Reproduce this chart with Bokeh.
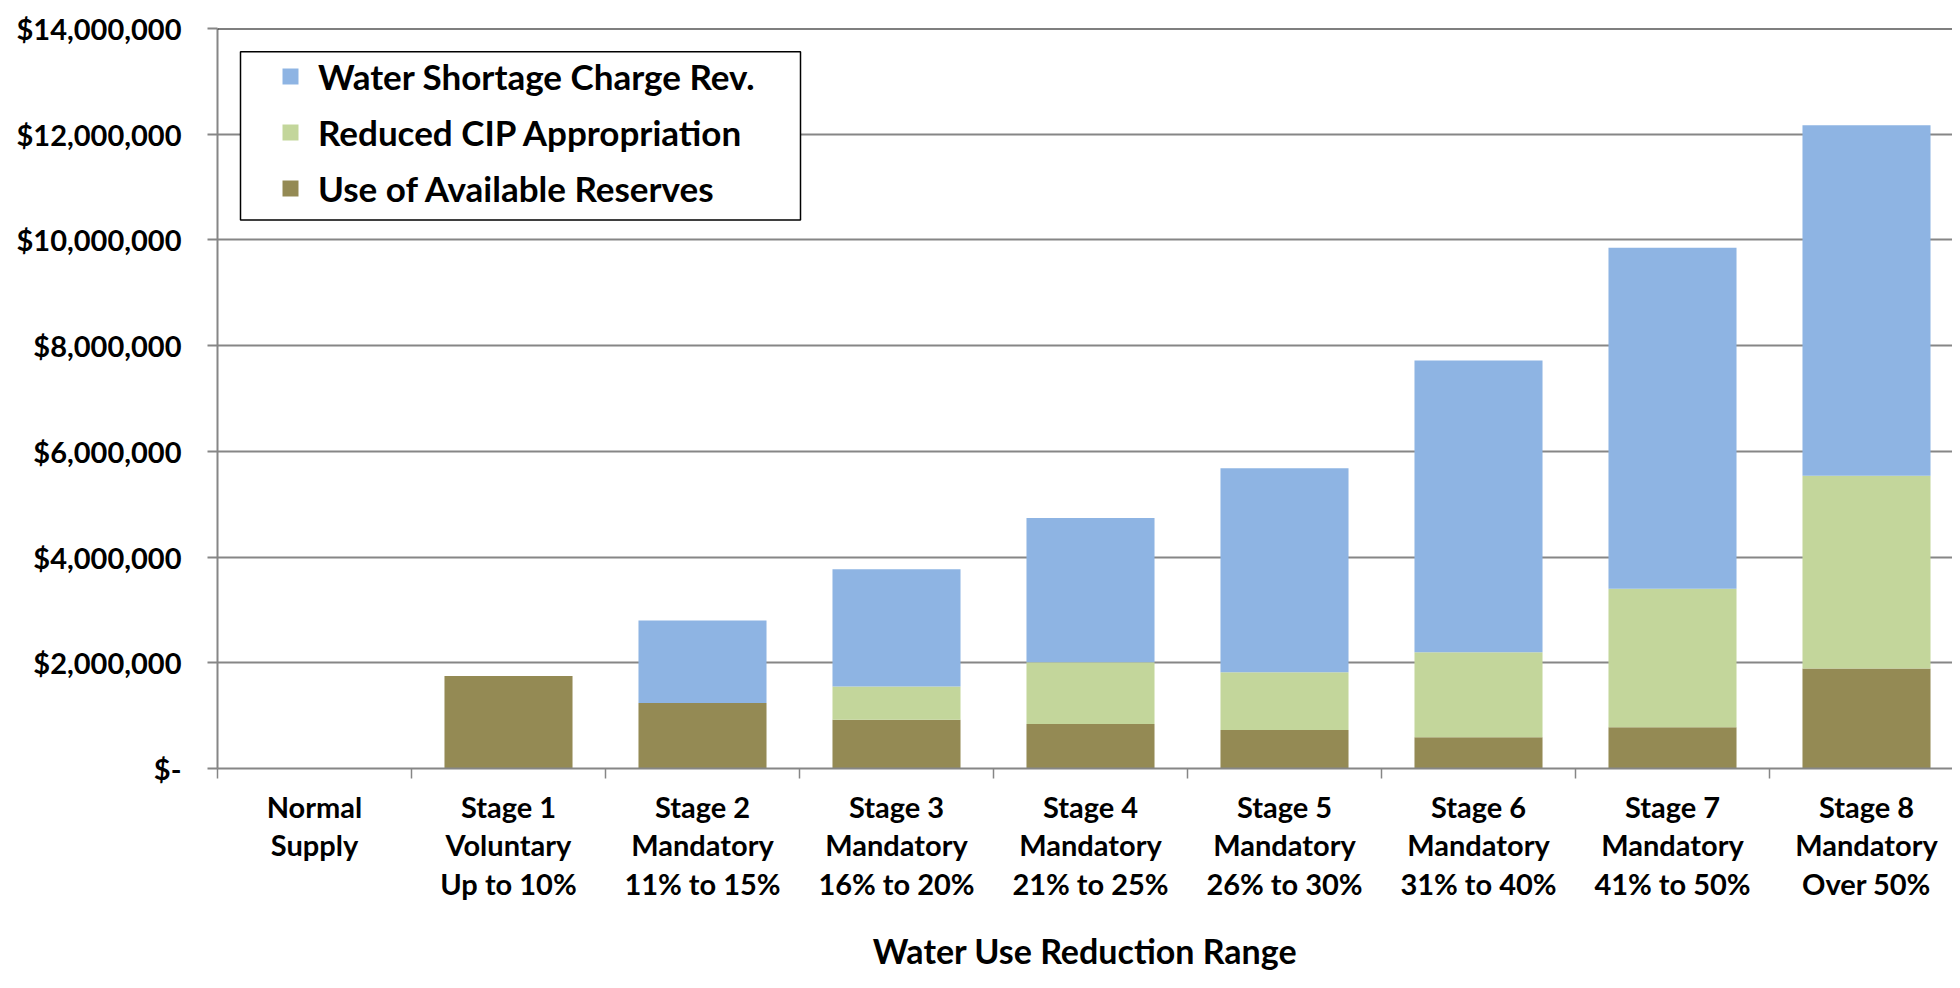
from bokeh.plotting import figure
from bokeh.models import (Range1d, FixedTicker, Span, Legend, LegendItem,
                          BoxAnnotation, ColumnDataSource)
from bokeh.embed import file_html
from bokeh.resources import INLINE

# ---------------- data ----------------
categories = [
    "Normal\nSupply",
    "Stage 1\nVoluntary\nUp to 10%",
    "Stage 2\nMandatory\n11% to 15%",
    "Stage 3\nMandatory\n16% to 20%",
    "Stage 4\nMandatory\n21% to 25%",
    "Stage 5\nMandatory\n26% to 30%",
    "Stage 6\nMandatory\n31% to 40%",
    "Stage 7\nMandatory\n41% to 50%",
    "Stage 8\nMandatory\nOver 50%",
]
reserves = [0, 1750000, 1240000, 920000, 840000, 730000, 590000, 780000, 1890000]
cip = [0, 0, 0, 630000, 1170000, 1090000, 1610000, 2620000, 3650000]
shortage = [0, 0, 1560000, 2220000, 2730000, 3860000, 5520000, 6450000, 6630000]

series_names = ["Water Shortage Charge Rev.", "Reduced CIP Appropriation", "Use of Available Reserves"]
series_colors = ["#8EB4E3", "#C3D69B", "#948A54"]

y_ticks = [0, 2000000, 4000000, 6000000, 8000000, 10000000, 12000000, 14000000]
y_tick_labels = ["$-", "$2,000,000", "$4,000,000", "$6,000,000", "$8,000,000",
                 "$10,000,000", "$12,000,000", "$14,000,000"]
x_title = "Water Use Reduction Range"

# ---------------- styles ----------------
FONT = "Lato"
GRID = "#868686"
n = len(categories)
xc = [i + 0.5 for i in range(n)]
src = ColumnDataSource(dict(x=xc, reserves=reserves, cip=cip, shortage=shortage))

p = figure(width=1952, height=980, output_backend="svg", toolbar_location=None,
           x_range=Range1d(0, 1735 / 194), y_range=Range1d(0, 14000000),
           min_border_left=217, min_border_right=0, min_border_top=28,
           min_border_bottom=212)
p.outline_line_color = None
p.background_fill_color = "white"
p.border_fill_color = "white"

# bars
rs = p.vbar_stack(["reserves", "cip", "shortage"], x="x", width=0.66, source=src,
                  color=[series_colors[2], series_colors[1], series_colors[0]],
                  line_color=None)

# grid
p.xgrid.visible = False
p.ygrid.ticker = FixedTicker(ticks=y_ticks)
p.ygrid.grid_line_color = GRID
p.ygrid.grid_line_width = 2

# top frame line
p.add_layout(Span(location=14000000, dimension="width", line_color="black", line_width=2))

# y axis
ya = p.yaxis[0]
ya.ticker = FixedTicker(ticks=y_ticks)
ya.major_label_overrides = {t: l for t, l in zip(y_ticks, y_tick_labels)}
ya.axis_line_color = GRID
ya.axis_line_width = 2
ya.major_tick_line_color = GRID
ya.major_tick_line_width = 2
ya.major_tick_out = 10
ya.major_tick_in = 0
ya.minor_tick_line_color = None
ya.major_label_standoff = 26
ya.major_label_text_font = FONT
ya.major_label_text_font_style = "bold"
ya.major_label_text_font_size = "29px"
ya.major_label_text_color = "black"

# x axis
xa = p.xaxis[0]
xa.ticker = FixedTicker(ticks=xc, minor_ticks=list(range(n + 1)))
xa.major_label_overrides = {x: c for x, c in zip(xc, categories)}
xa.axis_line_color = GRID
xa.axis_line_width = 2
xa.major_tick_line_color = None
xa.minor_tick_line_color = GRID
xa.minor_tick_line_width = 1.5
xa.minor_tick_out = 10
xa.minor_tick_in = 0
xa.major_label_standoff = 10
xa.major_label_text_font = FONT
xa.major_label_text_font_style = "bold"
xa.major_label_text_font_size = "29px"
xa.major_label_text_line_height = 1.1
xa.major_label_text_color = "black"
xa.axis_label = x_title
xa.axis_label_text_font = FONT
xa.axis_label_text_font_style = "bold"
xa.axis_label_text_font_size = "34px"
xa.axis_label_text_color = "black"
xa.axis_label_standoff = 26

# legend box
p.add_layout(BoxAnnotation(left=23 / 194, right=583 / 194,
                           top=(768 - 52) / 52.8 * 1e6, bottom=(768 - 220) / 52.8 * 1e6,
                           fill_color="white", fill_alpha=1, line_color="black",
                           line_alpha=1, line_width=1.5, level="annotation"))

items = [LegendItem(label=series_names[0], renderers=[rs[2]]),
         LegendItem(label=series_names[1], renderers=[rs[1]]),
         LegendItem(label=series_names[2], renderers=[rs[0]])]
leg = Legend(items=items, location=(63, 559), padding=0, margin=0,
             spacing=14, glyph_width=20, glyph_height=20, label_height=42,
             label_standoff=18, border_line_color=None, background_fill_alpha=0,
             label_text_font=FONT, label_text_font_style="bold",
             label_text_font_size="35px", label_text_color="black")
p.add_layout(leg)

open("out.html", "w").write(file_html(p, INLINE))
